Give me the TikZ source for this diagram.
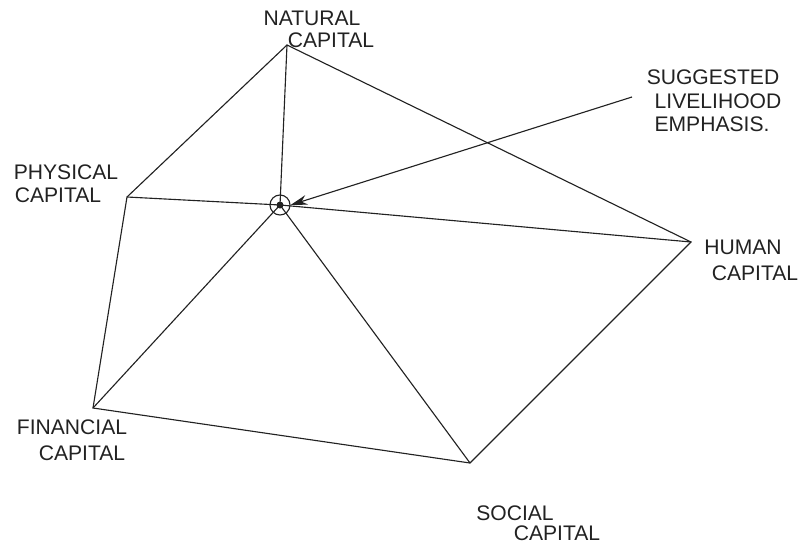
\documentclass[tikz,border=0pt]{standalone}
\usepackage{fontspec}
\setsansfont{Liberation Sans}
\definecolor{PInk}{HTML}{222222}
\usetikzlibrary{arrows.meta,positioning}
\tikzset{
  edge/.style={PInk,line width=0.8pt},
  lbl/.style={PInk,font=\sffamily\fontsize{15}{17}\selectfont,inner sep=0pt}
}

\begin{document}
\begin{tikzpicture}[x=0.025cm,y=-0.025cm]
    \useasboundingbox (0,0) rectangle (802,547);
    % corners of the pentagon
    \coordinate (nat) at (287,45);
    \coordinate (phy) at (127,197);
    \coordinate (hum) at (691,242);
    \coordinate (soc) at (470,463);
    \coordinate (fin) at (93,408);
    \coordinate (ctr) at (280,205);
    \draw[edge] (nat) -- (phy) -- (fin) -- (soc) -- (hum) -- cycle;
    \foreach \v in {nat,phy,hum,soc,fin}{
      \draw[edge] (ctr) -- (\v);
    }
    % emphasis point
    \node[circle,draw=PInk,line width=0.8pt,minimum size=0.5cm,inner sep=0pt] (ring) at (ctr) {};
    \fill[PInk] (ctr) circle (3.5);
    \coordinate (tail) at (632,97);
    \draw[edge,-{Stealth[length=12pt,width=7pt]}] (tail) -- (ring.east);
    % labels
    \node[lbl] (natA) at (312,18) {NATURAL};
    \node[lbl] (natB) at (331,40) {CAPITAL};
    \node[lbl] (phyA) at (66,172) {PHYSICAL};
    \node[lbl] (phyB) at (58,195) {CAPITAL};
    \node[lbl] (humA) at (743,247) {HUMAN};
    \node[lbl] (humB) at (755,273) {CAPITAL};
    \node[lbl] (finA) at (72,427) {FINANCIAL};
    \node[lbl] (finB) at (82,453) {CAPITAL};
    \node[lbl] (socA) at (515,513) {SOCIAL};
    \node[lbl] (socB) at (557,533) {CAPITAL};
    \node[lbl] (sugA) at (713,77) {SUGGESTED};
    \node[lbl] (sugB) at (718,101) {LIVELIHOOD};
    \node[lbl] (sugC) at (712,124) {EMPHASIS.};
\end{tikzpicture}
\end{document}
